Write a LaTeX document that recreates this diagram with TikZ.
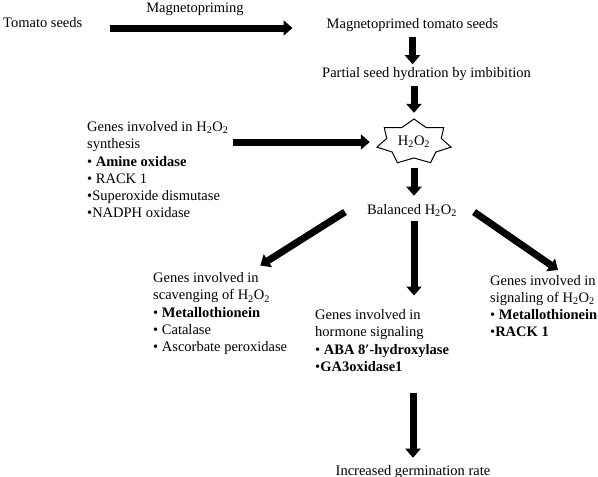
\documentclass[tikz,border=0pt]{standalone}
\usepackage{fontspec}
\setmainfont{Liberation Serif}
\usetikzlibrary{arrows.meta}
\newcommand{\hoo}{H\textsubscript{2}O\textsubscript{2}}
\begin{document}
\begin{tikzpicture}[x = 1pt, y = -1pt, font = \fontsize{14.5}{17.2}\selectfont, >={Triangle[length = 9pt, width = 15pt]}]
    \tikzstyle{txt} = [inner sep = 0pt]
    \tikzstyle{genes} = [inner sep = 0pt, align = left, anchor = north west]
    \tikzstyle{bigarrow} = [->, line width = 7pt]
    \useasboundingbox (0,0) rectangle (598,477);

    \node[txt, anchor = base west] (seeds) at (3,27) {Tomato seeds};
    \node[txt, anchor = base] (magnet) at (195,12) {Magnetopriming};
    \node[txt, anchor = base] (primed) at (412.5,28) {Magnetoprimed tomato seeds};
    \node[txt, anchor = base west] (hydration) at (322,77.5) {Partial seed hydration by imbibition};
    \node[minimum width = 76pt, minimum height = 46pt, inner sep = 0pt] (h2o2) at (414,142) {\hoo};
    \node[genes] (synthesis) at (87,121.5) {Genes involved in \hoo\\synthesis\\• \textbf{Amine oxidase}\\• RACK 1\\•Superoxide dismutase\\•NADPH oxidase};
    \node[txt, anchor = base west] (balanced) at (367,214) {Balanced \hoo};
    \node[genes] (scavenging) at (153,272.5) {Genes involved in\\scavenging of \hoo\\• \textbf{Metallothionein}\\• Catalase\\• Ascorbate peroxidase};
    \node[genes] (hormone) at (315,309.5) {Genes involved in\\hormone signaling\\• \textbf{ABA 8′-hydroxylase}\\•\textbf{GA3oxidase1}};
    \node[genes] (signaling) at (490,275) {Genes involved in\\signaling of \hoo\\• \textbf{Metallothionein}\\•\textbf{RACK 1}};
    \node[txt, anchor = base] (germination) at (413,475) {Increased germination rate};

    \draw[line width = 1pt, shift = {(h2o2.center)}] (90:38pt and 23pt)
        \foreach \k in {0,...,6} {-- ({90+\k*360/7+180/7}:28pt and 16pt) -- ({90+(\k+1)*360/7}:38pt and 23pt)} -- cycle;

    \draw[bigarrow, shorten <= 27pt, shorten >= 34pt] ([yshift = -1pt]seeds.base east) -- ([yshift = -1pt]seeds.base east -| primed.base west);
    \draw[bigarrow, shorten <= 6pt, shorten >= 3pt] (primed.south) -- (primed.south |- hydration.north);
    \draw[bigarrow, shorten <= 5pt, shorten >= 6pt] (h2o2.north |- hydration.south) -- (h2o2.north);
    \draw[bigarrow, shorten <= 4pt, shorten >= 6pt] (synthesis.east |- h2o2.west) -- (h2o2.west);
    \draw[bigarrow, shorten <= 3pt, shorten >= 8pt] (h2o2.south) -- (h2o2.south |- balanced.north);
    \draw[bigarrow] ([xshift = -22pt, yshift = 2pt]balanced.base west) -- ([xshift = -27pt, yshift = 7pt]scavenging.north east);
    \draw[bigarrow, shorten <= 5pt, shorten >= 14pt] ([xshift = 2pt]balanced.south) -- ([xshift = 2pt]balanced.south |- hormone.north);
    \draw[bigarrow] ([xshift = 17pt, yshift = 2pt]balanced.base east) -- ([xshift = 68pt, yshift = 5pt]signaling.north west);
    \draw[bigarrow, shorten <= 21pt, shorten >= 7pt] (germination.north |- hormone.south) -- (germination.north);
\end{tikzpicture}
\end{document}
